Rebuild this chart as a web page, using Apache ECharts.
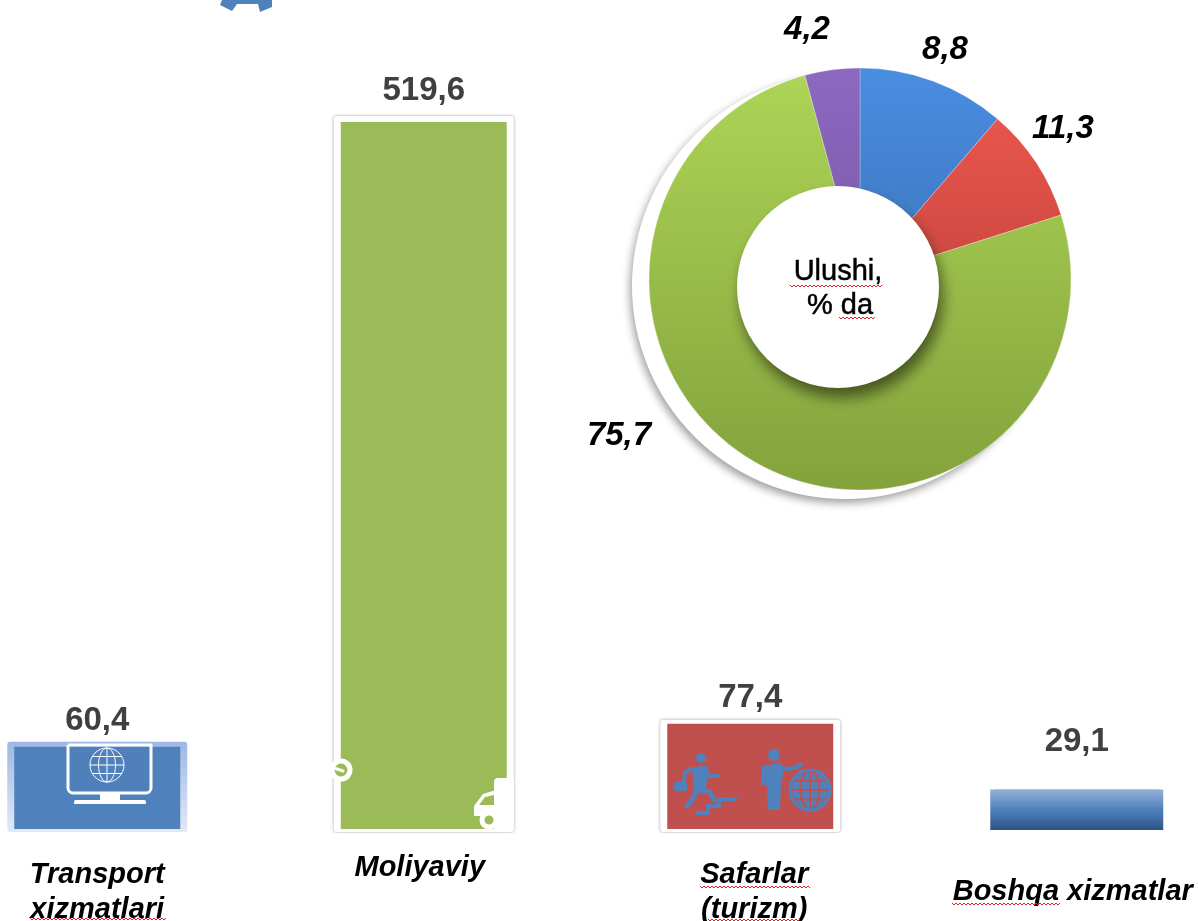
<!DOCTYPE html>
<html>
<head>
<meta charset="utf-8">
<title>Xizmatlar</title>
<script src="https://cdn.jsdelivr.net/npm/echarts@6/dist/echarts.min.js"></script>
<style>
  html, body { margin: 0; padding: 0; background: #fff; }
  #main { width: 1198px; height: 921px; }
</style>
</head>
<body>
<div id="main"></div>
<script>
const categories = ['Transport\nxizmatlari', 'Moliyaviy', 'Safarlar\n(turizm)', 'Boshqa xizmatlar'];
const barValues = [60.4, 519.6, 77.4, 29.1];
const barMax = 519.6;

// slice sizes as drawn, clockwise from the top
const pieValues = [11.3, 8.8, 75.7, 4.2];
// the picture prints these on the slices, blue and red read the other way round
const pieLabels = ['8,8', '11,3', '75,7', '4,2'];

const FONT = '"Liberation Sans", Arial, sans-serif';
const BLUE = '#4f81bd';
const GREEN = '#9bbb59';
const BAR_WIDTH = 166;

const chart = echarts.init(document.getElementById('main'));

const vGrad = (top, bottom) => new echarts.graphic.LinearGradient(0, 0, 0, 1, [
    { offset: 0, color: top },
    { offset: 1, color: bottom }
]);
const steelGrad = () => new echarts.graphic.LinearGradient(0, 0, 0, 1, [
    { offset: 0, color: '#95b0d6' },
    { offset: 0.5, color: BLUE },
    { offset: 1, color: '#2f5587' }
]);
// same gradient for every slice, from the top of the pie to the bottom
const pieGrad = (top, bottom) => ({
    type: 'linear', x: 0, y: 68, x2: 0, y2: 490, global: true,
    colorStops: [{ offset: 0, color: top }, { offset: 1, color: bottom }]
});

const barColors = [BLUE, GREEN, '#c0504d', steelGrad()];
const labelGaps = [9, 15, 9, 31];
const axisPads = [
    [8, 0, 0, 0],
    [1, 8, 0, 0],
    [8, 0, 0, 8],
    [25, 8, 0, 0]
];
const pieLabelSpots = [[945, 50], [1063, 129], [619, 436], [807, 30]];

// the frame drawn behind each bar: extra width, extra top, extra bottom, look
const greyEdge = { shadowBlur: 3, shadowColor: 'rgba(0,0,0,.4)' };
const frames = [
    { padX: 7, padTop: 5, padBottom: 3, style: { fill: vGrad('#9db8e4', '#e2e9f5') } },
    { padX: 7, padTop: 6, padBottom: 3, style: Object.assign({ fill: '#fff' }, greyEdge) },
    { padX: 7, padTop: 4, padBottom: 3, style: Object.assign({ fill: '#fff' }, greyEdge) },
    { padX: 3.5, padTop: 0, padBottom: 1, style: { fill: steelGrad() } }
];

function renderFrame(params, api) {
    const f = frames[params.dataIndex];
    const top = api.coord([api.value(0), api.value(1)]);
    const base = api.coord([api.value(0), 0]);
    return {
        type: 'rect',
        shape: {
            x: top[0] - BAR_WIDTH / 2 - f.padX,
            y: top[1] - f.padTop,
            width: BAR_WIDTH + f.padX * 2,
            height: base[1] - top[1] + f.padTop + f.padBottom,
            r: f.padTop ? 3 : 0
        },
        style: f.style
    };
}

// red spell-check squiggle
function squiggle(x1, x2, y) {
    const pts = [];
    for (let x = x1, up = 0; x <= x2; x += 2, up = 1 - up) pts.push([x, y + up * 2]);
    return { type: 'polyline', z: 120, shape: { points: pts }, style: { stroke: '#e02020', lineWidth: 1, fill: null } };
}

function globe(cx, cy, r, color, lw, z) {
    const line = { stroke: color, lineWidth: lw, fill: null };
    const parts = [
        { type: 'circle', shape: { cx, cy, r } },
        { type: 'ellipse', shape: { cx, cy, rx: r * 0.5, ry: r } },
        { type: 'line', shape: { x1: cx, y1: cy - r, x2: cx, y2: cy + r } },
        { type: 'line', shape: { x1: cx - r, y1: cy, x2: cx + r, y2: cy } },
        { type: 'line', shape: { x1: cx - r * 0.87, y1: cy - r * 0.5, x2: cx + r * 0.87, y2: cy - r * 0.5 } },
        { type: 'line', shape: { x1: cx - r * 0.87, y1: cy + r * 0.5, x2: cx + r * 0.87, y2: cy + r * 0.5 } }
    ];
    return parts.map(p => Object.assign(p, { z, style: line }));
}

function poly(points, color, z) {
    return { type: 'polygon', z, shape: { points }, style: { fill: color } };
}
function stroke(points, color, lineWidth, z) {
    return { type: 'polyline', z, shape: { points }, style: { stroke: color, lineWidth, fill: null, lineCap: 'round', lineJoin: 'round' } };
}

const ICON_Z = 50;
const decorations = [
    // disc behind the pie
    { type: 'circle', z: -1, shape: { cx: 845, cy: 286, r: 213 }, style: { fill: '#fff', shadowBlur: 9, shadowColor: 'rgba(0,0,0,.38)', shadowOffsetX: -2, shadowOffsetY: 4 } },
    // doughnut hole, sits off centre in the picture
    { type: 'circle', z: 100, shape: { cx: 838, cy: 287, r: 101 }, style: { fill: '#fff', shadowBlur: 14, shadowOffsetX: 4, shadowOffsetY: 10, shadowColor: 'rgba(50,60,20,.75)' } },
    { type: 'text', z: 120, x: 838, y: 272, style: { text: 'Ulushi,', font: '29px ' + FONT, fill: '#000', stroke: '#000', lineWidth: 0.5, align: 'center', verticalAlign: 'middle' } },
    { type: 'text', z: 120, x: 840, y: 306, style: { text: '% da', font: '29px ' + FONT, fill: '#000', stroke: '#000', lineWidth: 0.5, align: 'center', verticalAlign: 'middle' } },
    squiggle(790, 882, 285), squiggle(839, 876, 317),
    squiggle(30, 167, 918), squiggle(700, 810, 886), squiggle(708, 800, 919), squiggle(952, 1060, 903),

    // cuts the frames off at the bottom
    { type: 'rect', z: 40, shape: { x: 0, y: 833, width: 1198, height: 14 }, style: { fill: '#fff' } },

    // gear cropped by the top edge
    poly([[220, 5], [232, 11], [237, 4], [258, 4], [260, 12], [272, 7], [272, 0], [222, 0]], BLUE, ICON_Z),

    // monitor on the transport bar
    { type: 'rect', z: ICON_Z, shape: { x: 68, y: 745, width: 83, height: 48, r: [0, 0, 5, 5] }, style: { fill: 'rgba(79,129,189,.25)', stroke: '#fff', lineWidth: 3 } },
    { type: 'rect', z: ICON_Z, shape: { x: 100, y: 793, width: 20, height: 9 }, style: { fill: '#fff' } },
    { type: 'rect', z: ICON_Z, shape: { x: 74, y: 800, width: 72, height: 4, r: [2, 2, 0, 0] }, style: { fill: '#fff' } },
    ...globe(107, 765, 17, '#fff', 1, ICON_Z),

    // bits of icons on the green bar
    { type: 'circle', z: ICON_Z, shape: { cx: 341, cy: 770, r: 9 }, style: { fill: GREEN, stroke: '#fff', lineWidth: 5 } },
    stroke([[334, 768], [343, 771]], '#fff', 3, ICON_Z),
    { type: 'rect', z: ICON_Z, shape: { x: 494, y: 778, width: 20, height: 52, r: [4, 0, 0, 0] }, style: { fill: '#fff' } },
    poly([[474, 816], [474, 806], [483, 794], [496, 790], [496, 816]], '#fff', ICON_Z),
    poly([[479, 805], [485, 797], [494, 795], [494, 805]], GREEN, ICON_Z),
    { type: 'circle', z: ICON_Z, shape: { cx: 489, cy: 820, r: 7 }, style: { fill: GREEN, stroke: '#fff', lineWidth: 5 } },

    // stairs man on the red bar
    { type: 'circle', z: ICON_Z, shape: { cx: 701, cy: 758, r: 5 }, style: { fill: BLUE } },
    poly([[692, 767], [707, 766], [708, 776], [705, 793], [694, 793]], BLUE, ICON_Z),
    stroke([[706, 769], [708, 776], [718, 776]], BLUE, 4, ICON_Z),
    stroke([[692, 769], [685, 772], [684, 783]], BLUE, 4, ICON_Z),
    { type: 'rect', z: ICON_Z, shape: { x: 674, y: 782, width: 13, height: 9, r: 2 }, style: { fill: BLUE } },
    stroke([[701, 790], [710, 792], [714, 800]], BLUE, 5, ICON_Z),
    stroke([[696, 792], [692, 800], [687, 806]], BLUE, 5, ICON_Z),
    stroke([[697, 813], [708, 813], [708, 806], [719, 806], [719, 799], [735, 799]], BLUE, 4, ICON_Z),

    // man with globe
    { type: 'circle', z: ICON_Z, shape: { cx: 774, cy: 755, r: 6 }, style: { fill: BLUE } },
    poly([[762, 766], [781, 763], [784, 770], [781, 785], [780, 810], [768, 810], [767, 786], [761, 784]], BLUE, ICON_Z),
    stroke([[780, 768], [790, 769], [801, 765]], BLUE, 4, ICON_Z),
    { type: 'circle', z: ICON_Z, shape: { cx: 810, cy: 790, r: 20 }, style: { fill: BLUE } },
    ...globe(810, 790, 19, '#c0504d', 2, ICON_Z + 1),
    { type: 'circle', z: ICON_Z + 1, shape: { cx: 810, cy: 790, r: 20 }, style: { fill: null, stroke: BLUE, lineWidth: 3 } }
];

const option = {
    animation: false,
    backgroundColor: '#fff',
    grid: { left: -66, width: 1306, top: 122, height: 707, outerBoundsMode: 'none' },
    xAxis: {
        type: 'category',
        data: categories.map((value, i) => ({
            value,
            textStyle: { padding: axisPads[i] }
        })),
        axisLine: { show: false },
        axisTick: { show: false },
        axisLabel: {
            interval: 0,
            margin: 20,
            fontFamily: FONT,
            fontSize: 29,
            fontWeight: 'bold',
            fontStyle: 'italic',
            lineHeight: 35,
            color: '#000',
            verticalAlign: 'top'
        }
    },
    yAxis: { type: 'value', min: 0, max: barMax, show: false },
    series: [
        {
            type: 'custom',
            z: 1,
            silent: true,
            clip: false,
            renderItem: renderFrame,
            encode: { x: 0, y: 1 },
            data: barValues.map((value, i) => [i, value])
        },
        {
            type: 'bar',
            barWidth: BAR_WIDTH,
            z: 2,
            data: barValues.map((value, i) => ({
                value,
                itemStyle: { color: barColors[i] },
                label: { distance: labelGaps[i] }
            })),
            label: {
                show: true,
                position: 'top',
                formatter: p => String(p.value).replace('.', ','),
                fontFamily: FONT,
                fontSize: 33,
                fontWeight: 'bold',
                color: '#404040'
            }
        },
        {
            type: 'pie',
            z: 5,
            center: [860, 279],
            radius: [70, 211],
            startAngle: 90,
            clockwise: true,
            silent: true,
            data: [
                { value: pieValues[0], itemStyle: { color: pieGrad('#4a8de0', '#2f5f9e') } },
                { value: pieValues[1], itemStyle: { color: pieGrad('#f05a50', '#a83430') } },
                { value: pieValues[2], itemStyle: { color: pieGrad('#add556', '#83a23c') } },
                { value: pieValues[3], itemStyle: { color: pieGrad('#8c68bf', '#6b4c96') } }
            ],
            itemStyle: { borderWidth: 1, borderColor: 'rgba(255,255,255,.25)' },
            label: {
                show: true,
                position: 'outside',
                formatter: p => pieLabels[p.dataIndex],
                fontFamily: FONT,
                fontSize: 33,
                fontWeight: 'bold',
                fontStyle: 'italic',
                color: '#000'
            },
            labelLine: { show: false },
            labelLayout: p => ({
                x: pieLabelSpots[p.dataIndex][0],
                y: pieLabelSpots[p.dataIndex][1],
                align: 'center',
                verticalAlign: 'middle'
            })
        }
    ],
    graphic: { elements: decorations }
};

chart.setOption(option);
</script>
</body>
</html>
